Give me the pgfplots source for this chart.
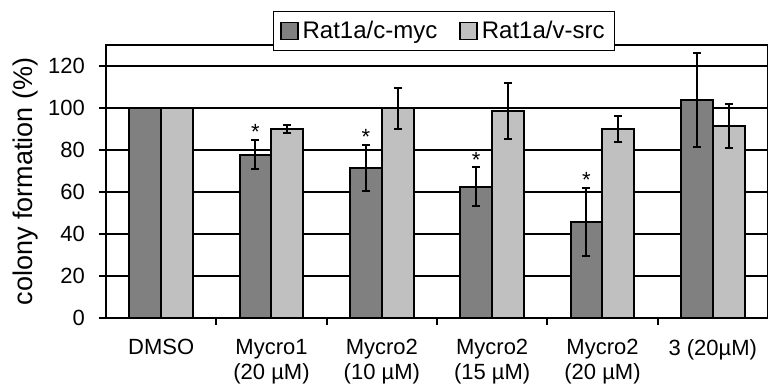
\documentclass[border=0pt]{standalone}
\usepackage{fontspec}
\setmainfont{Liberation Sans}
\usepackage{pgfplots}
\pgfplotsset{compat=1.18}
\definecolor{darkbar}{RGB}{128,128,128}
\definecolor{lightbar}{RGB}{192,192,192}
\begin{document}
\begin{tikzpicture}
\begin{axis}[
  name=ax,
  scale only axis,
  width=331pt, height=136.5pt,
  ybar=0pt,
  bar width=0.29,
  xmin=-0.5, xmax=5.5,
  ymin=0, ymax=130,
  ytick={0,20,...,120},
  ymajorgrids,
  major grid style={black, line width=0.6pt},
  axis line style={line width=0.9pt},
  tick align=outside,
  xtick pos=bottom, ytick pos=left,
  major tick length=3.5pt,
  xtick={0,...,5},
  xticklabels={DMSO, Mycro1\\(20 µM), Mycro2\\(10 µM), Mycro2\\(15 µM), Mycro2\\(20 µM), 3 (20µM)},
  major x tick style={draw=none},
  minor xtick={0.5,1.5,...,4.5},
  minor x tick style={black, line width=0.9pt},
  minor tick length=3.5pt,
  y tick style={black, line width=0.9pt},
  xticklabel style={align=center, font=\fontsize{11}{12.5}\selectfont, anchor=north, yshift=-3.5pt},
  yticklabel style={font=\fontsize{11}{12}\selectfont, xshift=-3.5pt},
  /pgf/number format/assume math mode=true,
  ylabel={colony formation (\%)},
  ylabel style={font=\fontsize{13.5}{15}\selectfont, at={(axis description cs:-0.121,0.5)}, anchor=center},
  legend columns=2,
  legend style={at={(0.511,1)}, anchor=center, yshift=7pt, draw=black, line width=0.5pt,
    font=\fontsize{12}{14}\selectfont, inner xsep=3pt, inner ysep=2.5pt,
    /tikz/every even column/.append style={column sep=9pt}},
  legend image code/.code={\draw[#1, line width=0.8pt] (0pt,-4.25pt) rectangle (8.5pt,4.25pt);},
]
\addplot[bar shift=-0.145, fill=darkbar, draw=black, line width=1pt,
  error bars/.cd, y dir=both, y explicit,
  error bar style={line width=1pt, black},
  error mark options={rotate=90, mark size=2pt, line width=1pt, black}]
  table[x=x, y=y, y error=e] {
x y e
0 100 0
1 77.8 6.8
2 71.5 10.8
3 62.5 9.2
4 45.8 16.3
5 103.8 22.4
};
\addlegendentry{Rat1a/c-myc}
\addplot[bar shift=0.145, fill=lightbar, draw=black, line width=1pt,
  error bars/.cd, y dir=both, y explicit,
  error bar style={line width=1pt, black},
  error mark options={rotate=90, mark size=2pt, line width=1pt, black}]
  table[x=x, y=y, y error=e] {
x y e
0 100 0
1 89.9 2.0
2 99.8 9.6
3 98.4 13.3
4 89.8 6.2
5 91.4 10.5
};
\addlegendentry{Rat1a/v-src}
\addplot[forget plot, bar shift=0, draw=none, fill=none, nodes near coords={*},
  every node near coord/.style={anchor=south, inner sep=0pt, font=\fontsize{11}{12}\selectfont}]
  coordinates {(0.855,84.6) (1.855,82.3) (2.855,71.7) (3.855,62.1)};
\end{axis}
\pgfresetboundingbox
\path[use as bounding box] ([xshift=-53pt,yshift=-33.5pt]ax.south west) rectangle ([yshift=22.5pt]ax.north east);
\end{tikzpicture}
\end{document}
